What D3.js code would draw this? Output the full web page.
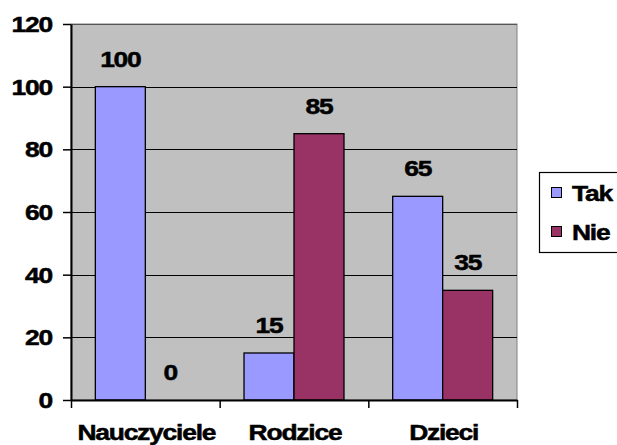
<!DOCTYPE html>
<html>

<head>
  <meta charset="utf-8">
  <title>Tak / Nie</title>
  <style>
    body { margin: 0; background: #fff; }
    text { font-family: Arial, "Liberation Sans", sans-serif; font-weight: bold; fill: #000; }
  </style>
</head>

<body>
  <script src="https://d3js.org/d3.v7.min.js"></script>
  <script>
    const categories = ['Nauczyciele', 'Rodzice', 'Dzieci'];
    const seriesNames = ['Tak', 'Ne'];
    const legendLabels = ['Tak', 'Nie'];
    const takValues = [100, 15, 65];
    const nieValues = [0, 85, 35];
    const yTicks = [0, 20, 40, 60, 80, 100, 120];
    const colors = ['#9999FF', '#993366'];

    const width = 617;
    const height = 445;
    const plot = { left: 71, right: 517, top: 24, bottom: 400 };
    const sx = 1.2; // the source font is stretched wide

    const svg = d3.select('body')
      .append('svg')
      .attr('width', width)
      .attr('height', height);

    const x = d3.scaleBand()
      .domain(categories)
      .range([plot.left, plot.right])
      .padding(0);

    const xs = d3.scaleBand()
      .domain(seriesNames)
      .range([0, x.bandwidth()])
      .paddingInner(0)
      .paddingOuter(0.487);

    const y = d3.scaleLinear()
      .domain([0, 120])
      .range([plot.bottom, plot.top]);

    const wideText = (sel, tx, ty, anchor, str) => {
      sel.append('text')
        .attr('transform', `translate(${tx},${ty}) scale(${sx},1)`)
        .attr('text-anchor', anchor)
        .style('font-size', '22px')
        .style('letter-spacing', '-1px')
        .style('stroke', '#000')
        .style('stroke-width', '0.5px')
        .text(str);
    };

    // plot area
    svg.append('rect')
      .attr('x', plot.left)
      .attr('y', plot.top)
      .attr('width', plot.right - plot.left)
      .attr('height', plot.bottom - plot.top)
      .attr('fill', '#C0C0C0')
      .attr('stroke', '#808080')
      .attr('stroke-width', 1);

    // gridlines
    svg.append('g')
      .selectAll('line')
      .data(yTicks.filter(d => d > 0))
      .join('line')
      .attr('x1', plot.left)
      .attr('x2', plot.right)
      .attr('y1', d => Math.round(y(d)) + 0.5)
      .attr('y2', d => Math.round(y(d)) + 0.5)
      .attr('stroke', d => d === 120 ? '#555' : '#000')
      .attr('stroke-width', 1.2);

    // bars
    const rows = categories.map((c, i) => ({ cat: c, vals: [takValues[i], nieValues[i]] }));

    const groups = svg.append('g')
      .selectAll('g')
      .data(rows)
      .join('g')
      .attr('transform', d => `translate(${x(d.cat)},0)`);

    groups.selectAll('rect')
      .data(d => d.vals.map((v, j) => ({ key: seriesNames[j], v, j })))
      .join('rect')
      .attr('x', d => xs(d.key))
      .attr('y', d => y(d.v))
      .attr('width', xs.bandwidth())
      .attr('height', d => y(0) - y(d.v))
      .attr('fill', d => colors[d.j])
      .attr('stroke', '#000')
      .attr('stroke-width', d => d.v > 0 ? 1.3 : 0);

    // value labels
    rows.forEach(r => {
      r.vals.forEach((v, j) => {
        const cx = x(r.cat) + xs(seriesNames[j]) + xs.bandwidth() / 2;
        wideText(svg, cx, y(v) - 20, 'middle', v);
      });
    });

    // y axis
    const yAxis = svg.append('g')
      .attr('transform', `translate(${plot.left},0)`)
      .call(d3.axisLeft(y).tickValues(yTicks).tickSize(8).tickSizeOuter(0));
    yAxis.select('.domain').attr('stroke', '#000').attr('stroke-width', 2);
    yAxis.selectAll('.tick line').attr('stroke', '#000').attr('stroke-width', 1.5);
    yAxis.selectAll('.tick text').remove();
    yAxis.selectAll('.tick').each(function (d) {
      wideText(d3.select(this), -19, 7.5, 'end', d);
    });

    // x axis: ticks at category boundaries
    const xb = d3.scaleLinear().domain([0, categories.length]).range([plot.left, plot.right]);
    const xAxis = svg.append('g')
      .attr('transform', `translate(0,${plot.bottom})`)
      .call(d3.axisBottom(xb).tickValues(d3.range(categories.length + 1)).tickSize(8).tickSizeOuter(0).tickFormat(''));
    xAxis.select('.domain').attr('stroke', '#000').attr('stroke-width', 2);
    xAxis.selectAll('.tick line').attr('stroke', '#000').attr('stroke-width', 1.5);

    categories.forEach(c => {
      wideText(svg, x(c) + x.bandwidth() / 2 + 1, 440, 'middle', c);
    });

    // legend
    const legend = svg.append('g').attr('transform', 'translate(539,172)');
    legend.append('rect')
      .attr('x', 0.5)
      .attr('y', 0.5)
      .attr('width', 100)
      .attr('height', 80)
      .attr('fill', '#fff')
      .attr('stroke', '#000')
      .attr('stroke-width', 1.2);

    legendLabels.forEach((name, i) => {
      const ly = 15 + i * 39;
      legend.append('rect')
        .attr('x', 12.5)
        .attr('y', ly + 0.5)
        .attr('width', 10)
        .attr('height', 10)
        .attr('fill', colors[i])
        .attr('stroke', '#000')
        .attr('stroke-width', 1);
      wideText(legend, 33, ly + 13.5, 'start', name);
    });
  </script>
</body>

</html>
